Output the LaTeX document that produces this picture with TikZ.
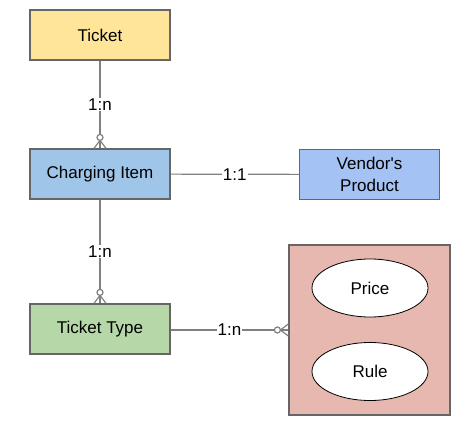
\documentclass[tikz,border=0pt]{standalone}
\usepackage{fontspec}
\setmainfont{Liberation Sans}
\usetikzlibrary{calc,shapes.geometric}
\definecolor{ticketfill}{HTML}{FFE599}
\definecolor{itemfill}{HTML}{9FC5E8}
\definecolor{vendorfill}{HTML}{A4C2F4}
\definecolor{typefill}{HTML}{B6D7A8}
\definecolor{groupfill}{HTML}{E6B8AF}
\definecolor{edgegray}{HTML}{808080}
\definecolor{boxline}{HTML}{666666}

\begin{document}
\begin{tikzpicture}[x=1pt,y=1pt]
	\tikzstyle{every node}=[font=\fontsize{17}{22}\selectfont]
	\tikzstyle{entity}=[draw=boxline, line width=1.2pt, minimum width=140pt, minimum height=50pt, inner sep=0pt, align=center]
	\tikzstyle{attr}=[draw=black, fill=white, ellipse, line width=0.8pt, minimum width=116pt, minimum height=58pt]
	\tikzstyle{card}=[fill=white, inner sep=1pt]
	\tikzstyle{link}=[draw=edgegray, line width=1.2pt]
	\useasboundingbox (0,0) rectangle (470,-435);
	\draw (369.5,-330) node (grp) [draw=boxline, line width=1.2pt, fill=groupfill, minimum width=161pt, minimum height=170pt] {};
	\draw (100,-35) node (t) [entity,fill=ticketfill] {Ticket};
	\draw (100,-174) node (ci) [entity,fill=itemfill] {Charging Item};
	\draw (369.5,-174.5) node (vp) [entity,fill=vendorfill] {Vendor\textquotesingle s\\Product};
	\draw (100,-329) node (tt) [entity,fill=typefill] {Ticket Type};
	\draw (370,-288) node (pr) [attr] {Price};
	\draw (370,-371.5) node (ru) [attr] {Rule};
	\draw[link] (t) -- node[card] {1:n} (ci);
	\draw[link] (ci) -- node[card] {1:1} (vp);
	\draw[link] (ci) -- node[card] {1:n} (tt);
	\draw[link] (tt.east |- 0,-330) -- node[card] {1:n} (grp.west |- 0,-330);
	% zero-or-many ends
	\draw[link] ($(ci.north)+(-6,0)$) -- ($(ci.north)+(0,8)$) -- ($(ci.north)+(6,0)$);
	\draw[link,fill=white] ($(ci.north)+(0,11)$) circle (3);
	\draw[link] ($(tt.north)+(-6,0)$) -- ($(tt.north)+(0,8)$) -- ($(tt.north)+(6,0)$);
	\draw[link,fill=white] ($(tt.north)+(0,11)$) circle (3);
	\draw[link] ($(grp.west |- 0,-330)+(0,6)$) -- ($(grp.west |- 0,-330)+(-8,0)$) -- ($(grp.west |- 0,-330)+(0,-6)$);
	\draw[link,fill=white] ($(grp.west |- 0,-330)+(-11,0)$) circle (3);
\end{tikzpicture}
\end{document}
